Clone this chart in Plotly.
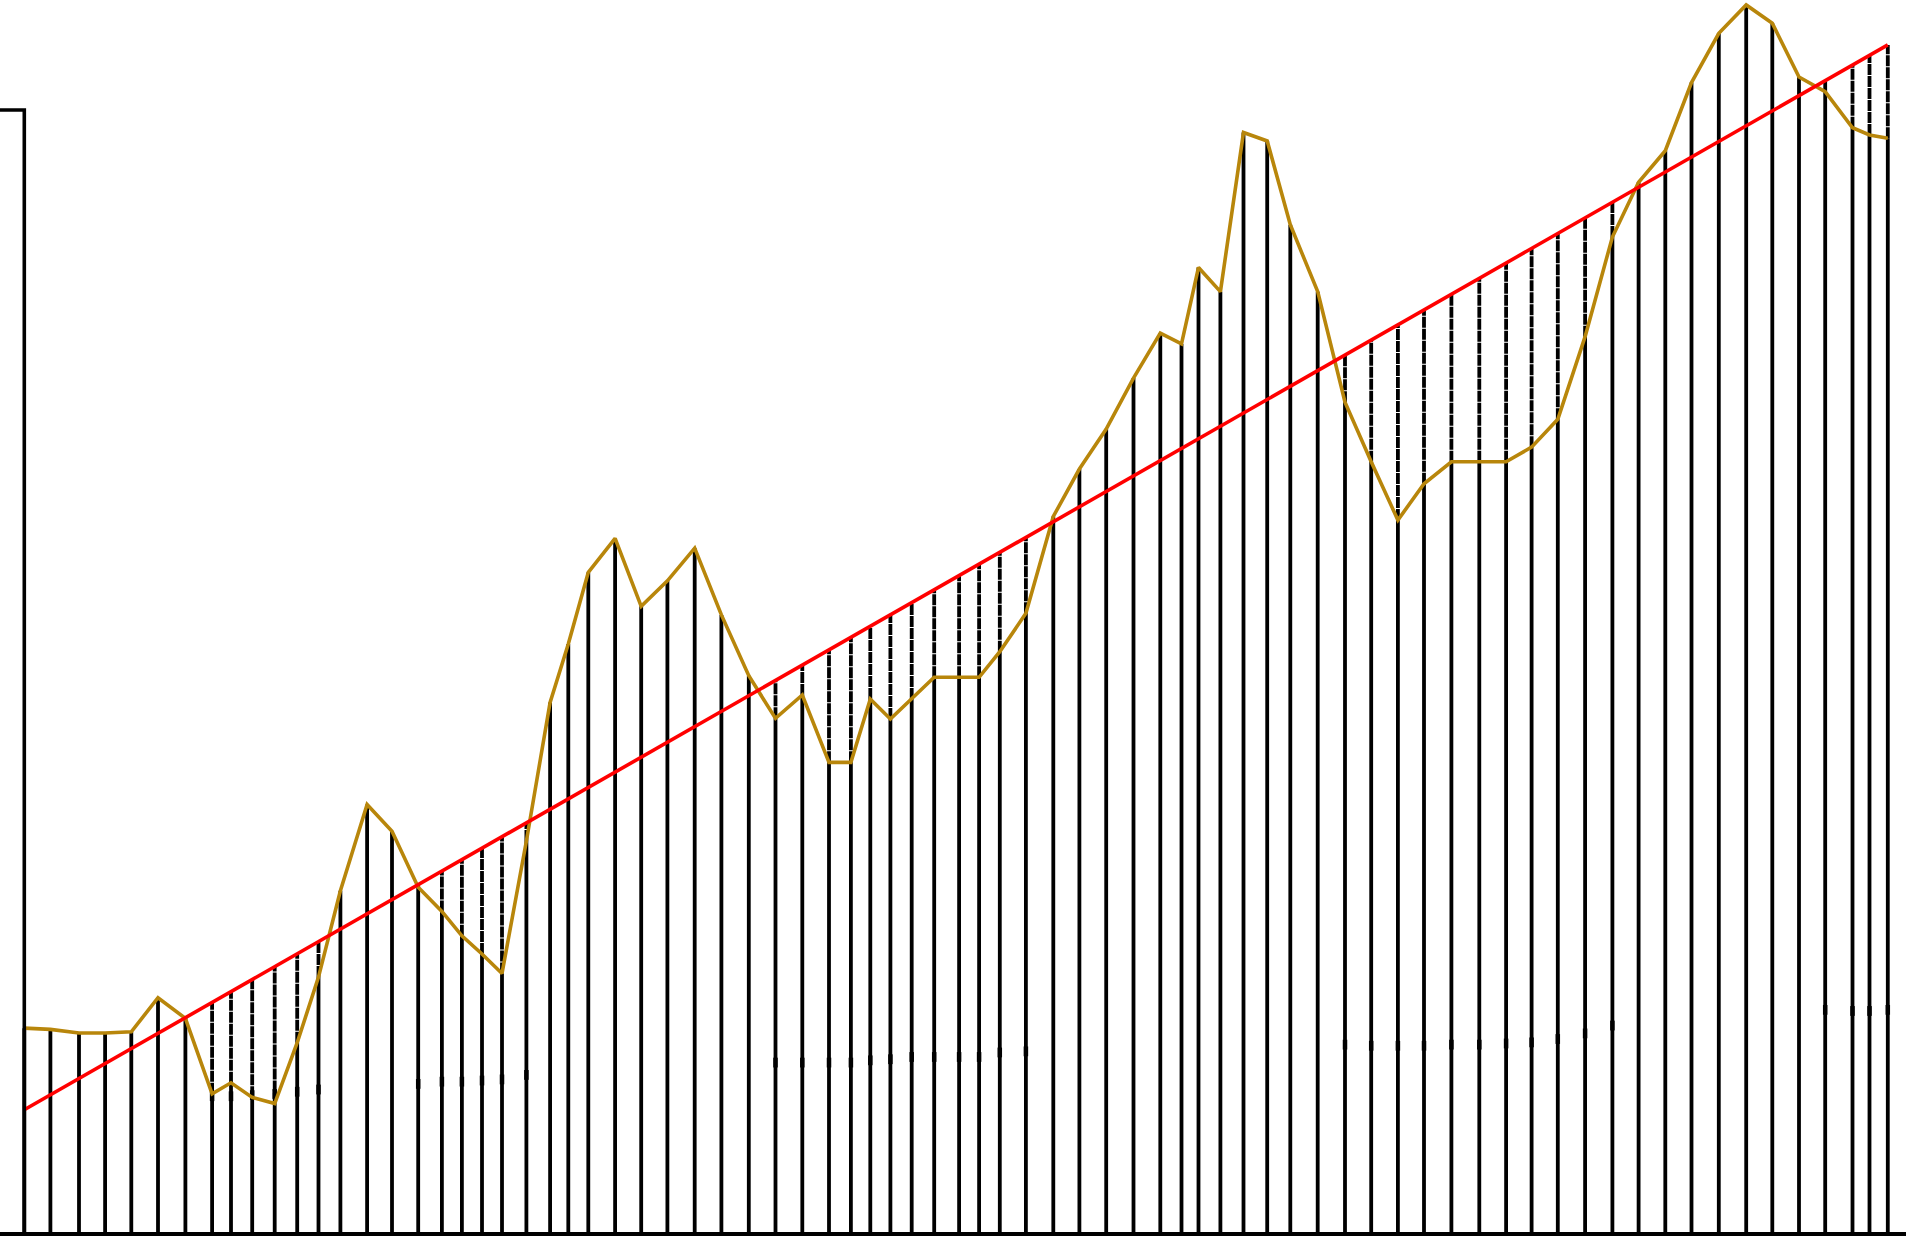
import numpy as np
import plotly.graph_objects as go

# x positions of the observations (day offsets from the first observation)
t = [0.0, 26.1, 54.7, 80.8, 107.0, 133.7, 161.1, 187.8, 206.7, 227.9,
     250.4, 272.9, 294.2, 316.1, 342.8, 367.7, 393.9, 417.6, 437.6, 457.7,
     477.7, 502.1, 525.8, 544.0, 564.0, 590.8, 616.9, 643.1, 670.4, 697.1,
     724.5, 751.2, 778.0, 804.7, 826.6, 846.0, 866.1, 887.4, 909.9, 934.8,
     954.8, 975.5, 1001.6, 1029.0, 1055.1, 1081.9, 1109.2, 1136.0, 1157.2, 1174.2,
     1196.1, 1219.2, 1242.9, 1266.0, 1293.4, 1320.7, 1346.9, 1373.6, 1399.7, 1427.1,
     1455.0, 1481.8, 1507.3, 1533.5, 1560.8, 1588.1, 1614.3, 1641.0, 1667.2, 1694.5,
     1721.9, 1748.0, 1774.7, 1800.9, 1828.2, 1845.2, 1863.5]

# observed series (gold line)
values = [18.17, 18.06, 17.74, 17.74, 17.84, 20.88, 19.04, 12.32, 13.30, 12.00,
          11.45, 16.87, 22.72, 30.41, 38.10, 35.71, 30.73, 28.57, 26.40, 24.78,
          23.04, 34.85, 47.20, 52.40, 58.79, 61.82, 55.76, 58.03, 60.95, 55.00,
          49.58, 45.78, 47.86, 41.86, 41.86, 47.50, 45.72, 47.50, 49.44, 49.44,
          49.44, 51.72, 55.14, 63.77, 68.00, 71.57, 76.11, 80.12, 79.15, 85.97,
          83.81, 98.00, 97.24, 89.77, 83.81, 73.95, 68.65, 63.45, 66.69, 68.65,
          68.65, 68.65, 69.95, 72.43, 79.80, 88.68, 93.56, 96.37, 102.44, 106.84,
          109.36, 107.73, 102.94, 101.63, 98.42, 97.77, 97.48]

# linear trend (red line) values at the first and last observation
trend_ends = [10.9, 105.8]

# small marks on the dashed stems (None where absent)
N = None
mark_level = [N, N, N, N, N, N, N, 12.1, 12.1, 12.2,
              12.3, 12.5, 12.7, N, N, N, 13.2, 13.4, 13.4, 13.5,
              13.6, 14.0, N, N, N, N, N, N, N, N,
              N, 15.1, 15.1, 15.1, 15.1, 15.3, 15.4, 15.6, 15.6, 15.6,
              15.6, 16.0, 16.1, N, N, N, N, N, N, N,
              N, N, N, N, N, 16.7, 16.6, 16.6, 16.6, 16.7,
              16.7, 16.8, 16.9, 17.2, 17.7, 18.4, N, N, N, N,
              N, N, N, 19.8, 19.7, 19.7, 19.8]

axis_top_value = 100

t_arr = np.array(t)
trend_t = [t[0], t[-1]]
trend_at = np.interp(t_arr, trend_t, trend_ends)

sx, sy, dx, dy = [], [], [], []
for ti, v, r in zip(t, values, trend_at):
    sx += [ti, ti, None]
    sy += [0, v, None]
    if r > v:
        dx += [ti, ti, None]
        dy += [v, r, None]

mx = [ti for ti, m in zip(t, mark_level) if m is not None]
my = [m for m in mark_level if m is not None]

fig = go.Figure()
fig.add_trace(go.Scatter(x=sx, y=sy, mode="lines",
                         line=dict(color="black", width=3.8), hoverinfo="skip"))
fig.add_trace(go.Scatter(x=dx, y=dy, mode="lines",
                         line=dict(color="black", width=3.8, dash="11px,1px"), hoverinfo="skip"))
fig.add_trace(go.Scatter(x=mx, y=my, mode="markers",
                         marker=dict(symbol="line-ns", size=7,
                                     line=dict(color="black", width=4.5)),
                         hoverinfo="skip"))
fig.add_trace(go.Scatter(x=t, y=values, mode="lines",
                         line=dict(color="#B8860B", width=3.6)))
fig.add_trace(go.Scatter(x=trend_t, y=trend_ends, mode="lines",
                         line=dict(color="#FF0000", width=3.6)))

W, H = 1906, 1236
xmin = -24.3
xmax = xmin + W
ymax = 1232 / 11.22

fig.add_shape(type="path",
              path=f"M {xmin},{axis_top_value} L {t[0]},{axis_top_value} L {t[0]},0",
              xref="x", yref="y", line=dict(color="black", width=3.6))

fig.update_layout(
    width=W, height=H,
    margin=dict(l=0, r=0, t=0, b=4, pad=0),
    paper_bgcolor="white", plot_bgcolor="white",
    showlegend=False,
    xaxis=dict(range=[xmin, xmax], showgrid=False, zeroline=False,
               showline=True, linecolor="black", linewidth=3.6,
               showticklabels=False, ticks=""),
    yaxis=dict(range=[0, ymax], showgrid=False, zeroline=False,
               showline=False, showticklabels=False, ticks=""),
)

fig.write_html("out.html", config={"displayModeBar": False})
